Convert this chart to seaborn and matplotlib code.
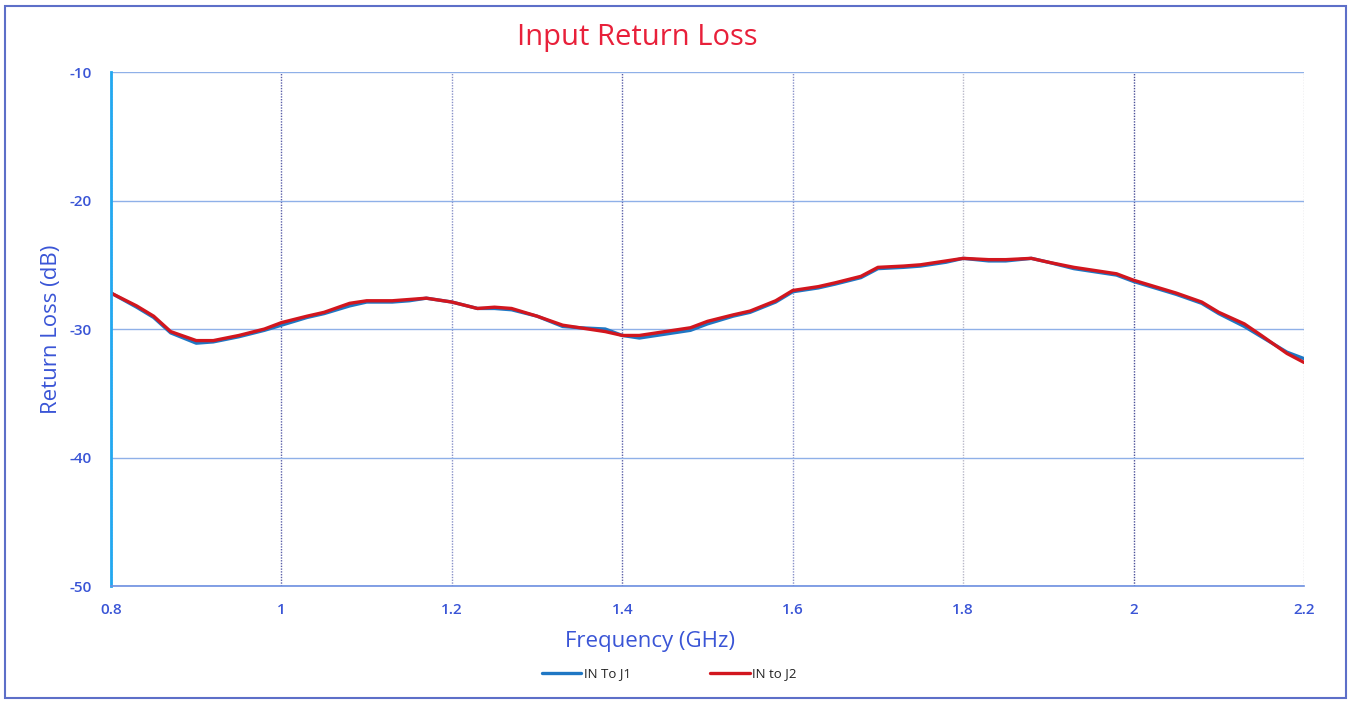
import numpy as np
import pandas as pd
import seaborn as sns
import matplotlib.pyplot as plt
from matplotlib.patches import Rectangle

# frequency points (GHz)
freq = [0.80, 0.83, 0.85, 0.87, 0.90, 0.92, 0.95, 0.98, 1.00, 1.03, 1.05, 1.08,
        1.10, 1.13, 1.15, 1.17, 1.20, 1.23, 1.25, 1.27, 1.30, 1.33, 1.35, 1.38,
        1.40, 1.42, 1.45, 1.48, 1.50, 1.53, 1.55, 1.58, 1.60, 1.63, 1.65, 1.68,
        1.70, 1.73, 1.75, 1.78, 1.80, 1.83, 1.85, 1.88, 1.90, 1.93, 1.95, 1.98,
        2.00, 2.03, 2.05, 2.08, 2.10, 2.13, 2.15, 2.18, 2.20]
in_to_j1 = [-27.2, -28.3, -29.1, -30.3, -31.1, -31.0, -30.6, -30.1, -29.7, -29.1, -28.8, -28.2,
            -27.9, -27.9, -27.8, -27.6, -27.9, -28.4, -28.4, -28.5, -29.0, -29.8, -29.9, -30.0,
            -30.5, -30.7, -30.4, -30.1, -29.6, -29.0, -28.7, -27.9, -27.1, -26.8, -26.5, -26.0,
            -25.3, -25.2, -25.1, -24.8, -24.5, -24.7, -24.7, -24.5, -24.8, -25.3, -25.5, -25.8,
            -26.3, -26.9, -27.3, -28.0, -28.8, -29.8, -30.6, -31.8, -32.3]
in_to_j2 = [-27.2, -28.2, -29.0, -30.2, -30.9, -30.9, -30.5, -30.0, -29.5, -29.0, -28.7, -28.0,
            -27.8, -27.8, -27.7, -27.6, -27.9, -28.4, -28.3, -28.4, -29.0, -29.7, -29.9, -30.2,
            -30.5, -30.5, -30.2, -29.9, -29.4, -28.9, -28.6, -27.8, -27.0, -26.7, -26.4, -25.9,
            -25.2, -25.1, -25.0, -24.7, -24.5, -24.6, -24.6, -24.5, -24.8, -25.2, -25.4, -25.7,
            -26.2, -26.8, -27.2, -27.9, -28.7, -29.6, -30.5, -31.9, -32.6]
series = ["IN To J1", "IN to J2"]
colors = ["#1f77c4", "#d2161e"]

df = pd.concat([
    pd.DataFrame({"Frequency": freq, "Return Loss": in_to_j1, "series": series[0]}),
    pd.DataFrame({"Frequency": freq, "Return Loss": in_to_j2, "series": series[1]}),
])

sns.set_style("white")
plt.rcParams['font.family'] = ['Open Sans', 'DejaVu Sans']
plt.rcParams['axes.unicode_minus'] = False
blue = "#3a55d6"

fig = plt.figure(figsize=(13.51, 7.02), dpi=100)
ax = fig.add_axes([0.0822, 0.1652, 0.8830, 0.7322])

sns.lineplot(data=df, x="Frequency", y="Return Loss", hue="series",
             palette=dict(zip(series, colors)), linewidth=2.4, ax=ax)

ax.set_xlim(0.8, 2.2)
ax.set_ylim(-50, -10)
ax.set_xticks([0.8, 1.0, 1.2, 1.4, 1.6, 1.8, 2.0, 2.2])
ax.set_xticklabels(["0.8", "1", "1.2", "1.4", "1.6", "1.8", "2", "2.2"])
ax.set_yticks([-50, -40, -30, -20, -10])
ax.tick_params(axis='both', length=0, colors=blue, labelsize=11)
ax.tick_params(axis='x', pad=12)
ax.tick_params(axis='y', pad=14)
for lab in ax.get_xticklabels() + ax.get_yticklabels():
    lab.set_fontweight("semibold")

# gridlines: solid light blue horizontals, dotted verticals
ax.yaxis.grid(True, color="#8fb0e8", linewidth=1.0)
ax.xaxis.grid(True, color="#5a5fa8", linestyle=(0, (1, 1)), linewidth=1.0)
grid_shade = ["#5a5fa8", "#5a5fa8", "#8890c8", "#5a5fa8", "#8890c8", "#b8b8c8", "#4a4f98", "#c0c0c8"]
for gl, c in zip(ax.get_xgridlines(), grid_shade):
    gl.set_color(c)
ax.set_axisbelow(True)

for s in ["top", "right"]:
    ax.spines[s].set_visible(False)
ax.spines["left"].set_color("#22a8f0")
ax.spines["left"].set_linewidth(2)
ax.spines["bottom"].set_color("#6d8fe0")
ax.spines["bottom"].set_linewidth(1.2)

ax.set_xlabel("Frequency (GHz)", color=blue, fontsize=16)
ax.xaxis.set_label_coords(0.452, -0.088)
ax.set_ylabel("Return Loss (dB)", color=blue, fontsize=16)
ax.yaxis.set_label_coords(-0.041, 0.5)

fig.text(0.4715, 0.947, "Input Return Loss", color="#e8203a", fontsize=21,
         ha="center", va="center")

leg = ax.legend(loc="upper center", bbox_to_anchor=(0.468, -0.135), ncol=2,
                frameon=False, fontsize=9.5, handlelength=3, columnspacing=6,
                handletextpad=0.2)
for t in leg.get_texts():
    t.set_color("#222222")

# outer chart border
fig.patches.append(Rectangle((0.004, 0.006), 0.992, 0.986, transform=fig.transFigure,
                             fill=False, edgecolor="#5d6fc8", linewidth=1.5))

fig.savefig("out.png", dpi=100)
